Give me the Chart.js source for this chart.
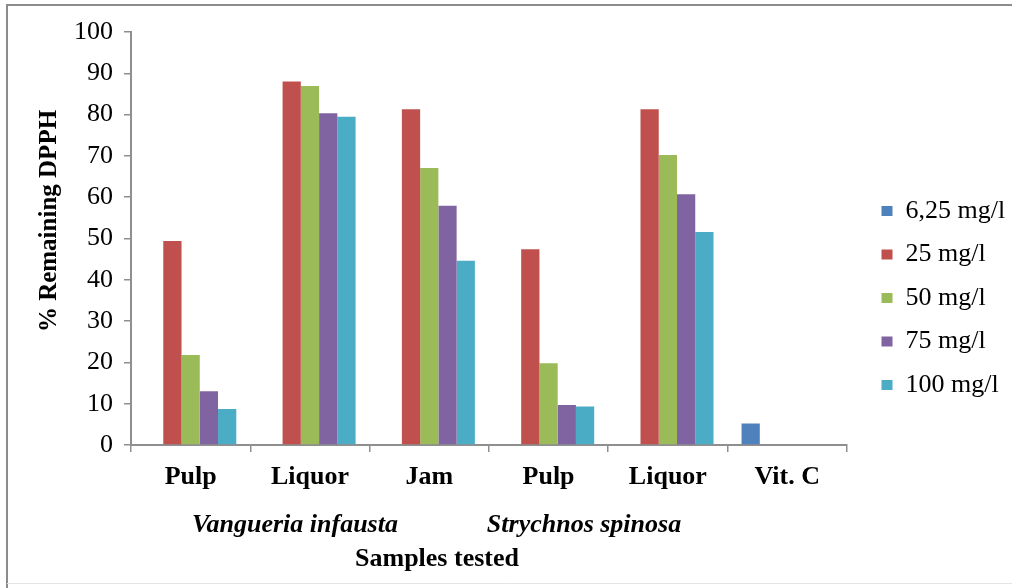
<!DOCTYPE html>
<html>
<head>
<meta charset="utf-8">
<script src="https://cdn.jsdelivr.net/npm/chart.js@4.4.1/dist/chart.umd.min.js"></script>
<style>
  html, body { margin: 0; padding: 0; background: #fff; }
  #c { display: block; }
</style>
</head>
<body>
<canvas id="c" width="1012" height="588"></canvas>
<script>
// Sample categories along the x axis
const categories = ['Pulp', 'Liquor', 'Jam', 'Pulp', 'Liquor', 'Vit. C'];

// % remaining DPPH per concentration
const dose625 = [null, null, null, null, null, 5.2];
const dose25  = [49.4, 88.0, 81.3, 47.4, 81.3, null];
const dose50  = [21.8, 86.9, 67.1, 19.8, 70.2, null];
const dose75  = [13.0, 80.3, 57.9, 9.7, 60.7, null];
const dose100 = [8.7, 79.5, 44.6, 9.3, 51.6, null];

const seriesLabels = ['6,25 mg/l', '25 mg/l', '50 mg/l', '75 mg/l', '100 mg/l'];
const seriesColors = ['#4F81BD', '#C0504D', '#9BBB59', '#8064A2', '#4BACC6'];

// Y axis ticks
const yTicks = [0, 10, 20, 30, 40, 50, 60, 70, 80, 90, 100];

// Text labels
const groupNames = ['Vangueria infausta', 'Strychnos spinosa'];
const xTitle = 'Samples tested';
const yTitle = '% Remaining DPPH';

const SERIF = '"Liberation Serif", "Times New Roman", serif';
const AXIS_GREY = '#8f8f8f';

// White page with the figure frame
const framePlugin = {
  id: 'frame',
  beforeDraw(chart) {
    const ctx = chart.ctx;
    ctx.save();
    ctx.fillStyle = '#ffffff';
    ctx.fillRect(0, 0, chart.width, chart.height);
    ctx.strokeStyle = '#8c8c8c';
    ctx.lineWidth = 2;
    ctx.beginPath();
    ctx.moveTo(7, 588);
    ctx.lineTo(7, 5);
    ctx.lineTo(1012, 5);
    ctx.stroke();
    ctx.strokeStyle = '#e4e4e4';
    ctx.lineWidth = 1;
    ctx.beginPath();
    ctx.moveTo(7, 583.5);
    ctx.lineTo(1012, 583.5);
    ctx.stroke();
    ctx.restore();
  }
};

// Legend sits a little to the right of the plot area
const legendPlacePlugin = {
  id: 'legendPlace',
  afterLayout(chart) {
    const lg = chart.legend;
    if (!lg) return;
    const w = lg.width, h = lg.height;
    lg.left = 864;
    lg.right = lg.left + w;
    lg.top = 180.5;
    lg.bottom = lg.top + h;
  }
};

// Axis titles and species group names
const notesPlugin = {
  id: 'notes',
  afterDraw(chart) {
    const ctx = chart.ctx;
    ctx.save();
    ctx.fillStyle = '#000';
    ctx.textAlign = 'center';
    ctx.textBaseline = 'middle';
    ctx.font = 'italic bold 26px ' + SERIF;
    ctx.fillText(groupNames[0], 295, 525);
    ctx.fillText(groupNames[1], 584, 525);
    ctx.font = 'bold 26px ' + SERIF;
    ctx.fillText(xTitle, 437, 559);
    ctx.translate(50, 221);
    ctx.rotate(-Math.PI / 2);
    ctx.font = 'bold 25px ' + SERIF;
    ctx.fillText(yTitle, 0, 0);
    ctx.restore();
  }
};

const seriesData = [dose625, dose25, dose50, dose75, dose100];

const chart = new Chart(document.getElementById('c'), {
  type: 'bar',
  data: {
    labels: categories,
    datasets: seriesData.map((d, i) => ({
      label: seriesLabels[i],
      data: d,
      backgroundColor: seriesColors[i],
      borderWidth: 0,
      barPercentage: 1.0,
      categoryPercentage: 0.765
    }))
  },
  options: {
    responsive: false,
    animation: false,
    devicePixelRatio: 1,
    layout: { padding: { top: 32, right: 14, bottom: 0, left: 0 } },
    plugins: {
      legend: {
        position: 'right',
        align: 'start',
        labels: {
          font: { family: SERIF, size: 26 },
          color: '#000',
          boxWidth: 11,
          boxHeight: 10,
          padding: 17.5
        }
      },
      tooltip: { enabled: false },
      title: { display: false }
    },
    scales: {
      x: {
        offset: true,
        grid: {
          display: true,
          offset: true,
          drawOnChartArea: false,
          drawTicks: true,
          tickLength: 7,
          color: AXIS_GREY,
          lineWidth: 1.5
        },
        border: { display: true, color: AXIS_GREY, width: 2 },
        ticks: {
          font: { family: SERIF, size: 26, weight: 'bold' },
          color: '#000',
          padding: 10,
          maxRotation: 0,
          autoSkip: false
        },
        afterFit(scale) { scale.height = 143; }
      },
      y: {
        min: 0,
        max: 100,
        afterBuildTicks(scale) { scale.ticks = yTicks.map(v => ({ value: v })); },
        grid: {
          display: true,
          drawOnChartArea: false,
          drawTicks: true,
          tickLength: 7,
          color: AXIS_GREY,
          lineWidth: 1.5
        },
        border: { display: true, color: AXIS_GREY, width: 2 },
        ticks: {
          font: { family: SERIF, size: 26 },
          color: '#000',
          padding: 11
        },
        afterFit(scale) { scale.width = 131; }
      }
    }
  },
  plugins: [framePlugin, legendPlacePlugin, notesPlugin]
});
</script>
</body>
</html>
